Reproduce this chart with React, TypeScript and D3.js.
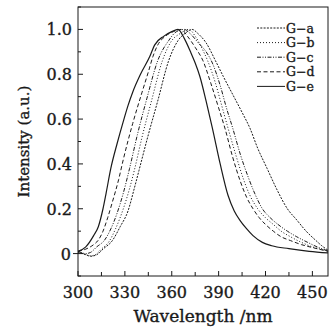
import { useEffect, useRef } from "react"
import * as d3 from "d3"

// wavelength (nm) / normalised intensity pairs
const gaWave = [300, 305, 308, 312, 316, 322, 327, 332, 336, 339, 345, 351, 358, 364, 369, 373, 377, 382, 388, 393, 399, 405, 410, 415, 421, 427, 434, 440, 446, 452, 456, 460]
const gaInt = [0.01, -0.005, -0.012, -0.005, 0.02, 0.058, 0.12, 0.19, 0.29, 0.37, 0.53, 0.68, 0.86, 0.95, 0.985, 1.0, 0.98, 0.94, 0.86, 0.79, 0.71, 0.63, 0.56, 0.47, 0.38, 0.29, 0.2, 0.15, 0.1, 0.06, 0.035, 0.015]

const gbWave = [300, 305, 308, 311, 315, 320, 324, 329, 333, 336, 341, 347, 354, 360, 365, 371, 375, 379, 383, 388, 392, 396, 401, 406, 410, 415, 420, 425, 430, 436, 443, 450, 460]
const gbInt = [0.005, -0.005, -0.01, -0.005, 0.02, 0.055, 0.11, 0.2, 0.29, 0.37, 0.52, 0.68, 0.86, 0.95, 0.98, 1.0, 0.97, 0.92, 0.86, 0.76, 0.66, 0.56, 0.44, 0.33, 0.26, 0.2, 0.16, 0.13, 0.1, 0.075, 0.05, 0.03, 0.012]

const gcWave = [300, 305, 308, 312, 317, 321, 325, 329, 333, 338, 344, 351, 358, 363, 368, 372, 377, 382, 386, 391, 395, 399, 404, 409, 413, 418, 423, 428, 434, 440, 447, 453, 460]
const gcInt = [0.01, 0.0, 0.005, 0.03, 0.06, 0.11, 0.18, 0.27, 0.38, 0.53, 0.69, 0.86, 0.95, 0.99, 1.0, 0.98, 0.94, 0.9, 0.85, 0.75, 0.65, 0.56, 0.44, 0.34, 0.27, 0.2, 0.16, 0.13, 0.1, 0.075, 0.05, 0.03, 0.012]

const gdWave = [300, 305, 310, 313, 316, 319, 322, 326, 329, 335, 341, 345, 348, 351, 356, 361, 366, 370, 375, 380, 385, 390, 394, 399, 404, 408, 412, 416, 420, 425, 430, 436, 443, 450, 460]
const gdInt = [0.01, 0.02, 0.04, 0.06, 0.1, 0.16, 0.23, 0.33, 0.42, 0.58, 0.72, 0.81, 0.88, 0.93, 0.97, 0.99, 1.0, 0.97, 0.92, 0.86, 0.76, 0.65, 0.56, 0.43, 0.32, 0.25, 0.2, 0.16, 0.13, 0.1, 0.075, 0.058, 0.04, 0.027, 0.01]

const geWave = [300, 305, 310, 313, 316, 318, 321, 325, 329, 332, 335, 340, 346, 349, 355, 360, 364, 368, 372, 375, 378, 382, 386, 391, 396, 400, 404, 408, 412, 418, 424, 435, 448, 460]
const geInt = [0.01, 0.03, 0.08, 0.12, 0.2, 0.27, 0.38, 0.49, 0.59, 0.66, 0.72, 0.8, 0.88, 0.93, 0.97, 0.99, 1.0, 0.96, 0.9, 0.85, 0.79, 0.68, 0.56, 0.4, 0.26, 0.19, 0.145, 0.11, 0.08, 0.05, 0.035, 0.022, 0.01, 0.003]

const seriesNames = ["G−a", "G−b", "G−c", "G−d", "G−e"]
const seriesDash = ["2,1.3", "1,2", "4,1.5,1,1.5,1,1.5", "4,2.5", "none"]
const seriesWave = [gaWave, gbWave, gcWave, gdWave, geWave]
const seriesInt = [gaInt, gbInt, gcInt, gdInt, geInt]

const xTicks = [300, 330, 360, 390, 420, 450]
const yTicks = [0, 0.2, 0.4, 0.6, 0.8, 1.0]

const W = 335
const H = 331
const font = "'DejaVu Serif', serif"
const ink = "#1a1a1a"

export default function App() {
  const svgRef = useRef<SVGSVGElement>(null)

  useEffect(() => {
    if (!svgRef.current) return
    const svg = d3.select(svgRef.current)
    svg.selectAll("*").remove()

    const left = 78, right = 328, top = 7, bottom = 276
    const x = d3.scaleLinear().domain([300, 460]).range([left, right])
    const y = d3.scaleLinear().domain([-0.1, 1.1]).range([bottom, top])

    const g = svg.append("g")

    // curves
    const line = d3.line<[number, number]>()
      .x(d => x(d[0]))
      .y(d => y(d[1]))
      .curve(d3.curveMonotoneX)

    seriesNames.forEach((name, i) => {
      const pts: [number, number][] = seriesWave[i].map((w, j) => [w, seriesInt[i][j]])
      g.append("path")
        .datum(pts)
        .attr("fill", "none")
        .attr("stroke", ink)
        .attr("stroke-width", i === 4 ? 1.2 : 1)
        .attr("stroke-dasharray", seriesDash[i])
        .attr("d", line)
    })

    // frame
    g.append("rect")
      .attr("x", left).attr("y", top)
      .attr("width", right - left).attr("height", bottom - top)
      .attr("fill", "none").attr("stroke", ink).attr("stroke-width", 1)

    const label = (sel: d3.Selection<SVGTextElement, unknown, null, undefined>, size: number) =>
      sel.attr("font-family", font).attr("font-size", size)
        .attr("fill", ink).attr("stroke", ink).attr("stroke-width", 0.35)

    // x ticks (inward)
    d3.range(300, 461, 15).forEach(v => {
      const major = v % 30 === 0
      g.append("line")
        .attr("x1", x(v)).attr("x2", x(v))
        .attr("y1", bottom).attr("y2", bottom - (major ? 5 : 4))
        .attr("stroke", ink)
    })
    xTicks.forEach(v => {
      g.append("text")
        .attr("x", x(v)).attr("y", bottom + 22)
        .attr("text-anchor", "middle")
        .call(label, 16)
        .text(v)
    })

    // y ticks (inward), with the zero tick poking out
    d3.range(-0.1, 1.101, 0.1).forEach(v => {
      const r = Math.round(v * 10)
      const major = r % 2 === 0
      g.append("line")
        .attr("x1", left).attr("x2", left + (major ? 5 : 3))
        .attr("y1", y(v)).attr("y2", y(v))
        .attr("stroke", ink)
    })
    g.append("line")
      .attr("x1", left - 5).attr("x2", left)
      .attr("y1", y(0)).attr("y2", y(0))
      .attr("stroke", ink)
    yTicks.forEach(v => {
      g.append("text")
        .attr("x", v === 0 ? left - 7 : left - 6).attr("y", y(v) + 6)
        .attr("text-anchor", "end")
        .call(label, 16)
        .text(v === 0 ? "0" : v.toFixed(1))
    })

    // axis titles
    g.append("text")
      .attr("x", (left + right) / 2).attr("y", 322)
      .attr("text-anchor", "middle")
      .call(label, 17)
      .text("Wavelength /nm")
    g.append("text")
      .attr("transform", `translate(29,${(top + bottom) / 2}) rotate(-90)`)
      .attr("text-anchor", "middle")
      .call(label, 15)
      .text("Intensity (a.u.)")

    // legend
    seriesNames.forEach((name, i) => {
      const ly = 28 + i * 14.6
      g.append("line")
        .attr("x1", 257).attr("x2", 285)
        .attr("y1", ly).attr("y2", ly)
        .attr("stroke", ink).attr("stroke-width", 1)
        .attr("stroke-dasharray", seriesDash[i])
      g.append("text")
        .attr("x", 286).attr("y", ly + 4.5)
        .call(label, 12.5)
        .text(name)
    })
  }, [])

  return (
    <svg
      ref={svgRef}
      width={W}
      height={H}
      style={{ position: "absolute", left: 0, top: 0, background: "#fff" }}
    />
  )
}
